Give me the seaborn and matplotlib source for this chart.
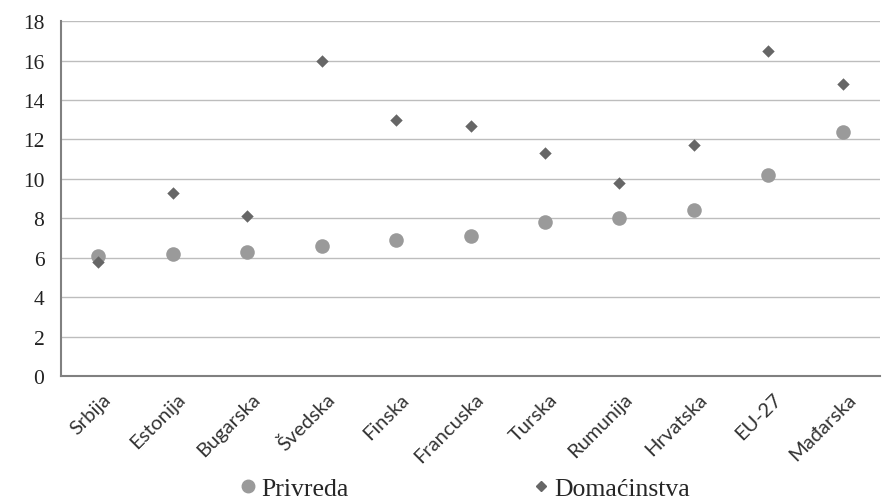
import matplotlib
matplotlib.use("Agg")
import matplotlib.pyplot as plt
import seaborn as sns
import pandas as pd
import numpy as np
from matplotlib.lines import Line2D

countries = ["Srbija", "Estonija", "Bugarska", "Švedska", "Finska", "Francuska",
             "Turska", "Rumunija", "Hrvatska", "EU-27", "Mađarska"]
privreda = [6.1, 6.2, 6.3, 6.6, 6.9, 7.1, 7.8, 8.0, 8.4, 10.2, 12.4]
domacinstva = [5.8, 9.3, 8.1, 16.0, 13.0, 12.7, 11.3, 9.8, 11.7, 16.5, 14.8]
series_names = ["Privreda", "Domaćinstva"]
yticks = [0, 2, 4, 6, 8, 10, 12, 14, 16, 18]

df = pd.DataFrame({
    "zemlja": countries * 2,
    "vrednost": privreda + domacinstva,
    "serija": [series_names[0]] * len(countries) + [series_names[1]] * len(countries),
})
df["pos"] = list(range(len(countries))) * 2

sns.set_style("white")
fig = plt.figure(figsize=(8.86, 5.02), dpi=100)
ax = fig.add_axes([0.0688, 0.249, 0.9245, 0.707])

colors = {"Privreda": "#9a9a9a", "Domaćinstva": "#666666"}
sizes = {"Privreda": 110, "Domaćinstva": 40}
markers = {"Privreda": "o", "Domaćinstva": "D"}
for name in series_names:
    sub = df[df["serija"] == name]
    sns.scatterplot(data=sub, x="pos", y="vrednost", ax=ax, color=colors[name],
                    marker=markers[name], s=sizes[name], linewidth=0, zorder=3,
                    legend=False)

n = len(countries)
ax.set_xlim(-0.5, n - 0.5)
ax.set_ylim(0, 18)
ax.set_yticks(yticks)
ax.set_yticklabels([str(v) for v in yticks], fontfamily="Liberation Serif", fontsize=15.5)
ax.yaxis.grid(True, color="#bdbdbd", linewidth=1)
ax.set_axisbelow(True)

ax.set_xticks(np.arange(n))
ax.set_xticklabels(countries, rotation=45, ha="right", rotation_mode="anchor",
                   fontfamily="Lato", fontsize=14.5, color="#333333")
ax.set_xticks(np.arange(-0.5, n), minor=True)
ax.tick_params(axis="x", which="major", length=0, pad=10)
ax.tick_params(axis="x", which="minor", length=7, color="#808080", width=1.2, direction="out")
ax.tick_params(axis="y", length=7, color="#808080", width=1.2, direction="out", pad=5,
               labelcolor="#222222")
for lbl in ax.get_xticklabels():
    lbl.set_transform(lbl.get_transform() + matplotlib.transforms.ScaledTranslation(0.04, 0, fig.dpi_scale_trans))

for side in ["top", "right"]:
    ax.spines[side].set_visible(False)
for side in ["left", "bottom"]:
    ax.spines[side].set_color("#808080")
    ax.spines[side].set_linewidth(1.5)
ax.set_xlabel("")
ax.set_ylabel("")

handles = [Line2D([], [], marker="o", color=colors["Privreda"], linestyle="", markersize=9),
           Line2D([], [], marker="D", color=colors["Domaćinstva"], linestyle="", markersize=5.5)]
fig.legend(handles, series_names, loc="center", bbox_to_anchor=(0.525, 0.025), ncol=2,
           frameon=False, columnspacing=7.2, handletextpad=0.2, handlelength=0.6,
           prop={"family": "Liberation Serif", "size": 18.5})

fig.savefig("out.png", dpi=100)
